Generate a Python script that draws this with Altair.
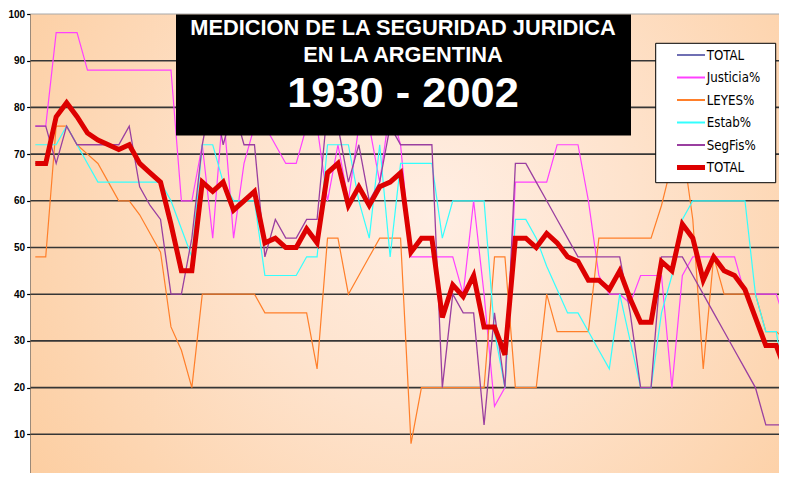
import altair as alt
import pandas as pd

years = list(range(1930, 2003))

total = [68, 68, 78, 81, 78, 74.5, 73, 72, 71, 72,
         68, 66, 64, 55, 45, 45, 64, 62, 64, 58,
         60, 62, 51, 52, 50, 50, 54, 51, 66, 68,
         59, 63, 59, 63, 64, 66, 49, 52, 52, 35,
         42, 39.5, 44, 33, 33, 27, 52, 52, 50, 53,
         51, 48, 47, 43, 43, 41, 45, 39, 34, 34,
         47, 45, 55, 52, 43, 48, 45, 44, 41, 35,
         29, 29, 23]

justicia = [76, 76, 96, 96, 96, 88, 88, 88, 88, 88,
            88, 88, 88, 88, 60, 60, 72, 52, 80, 52,
            68, 76, 76, 72, 68, 68, 76, 76, 60, 72,
            60, 76, 76, 64, 80, 72, 48, 48, 48, 48,
            48, 40, 60, 40, 16, 20, 64, 64, 64, 64,
            72, 72, 72, 60, 44, 40, 40, 38, 44, 44,
            44, 20, 44, 48, 48, 48, 48, 48, 40, 40,
            40, 40, 33]

leyes = [48, 48, 76, 76, 72, 70, 68, 64, 60, 60,
         57, 53, 49, 33, 28, 20, 40, 40, 40, 40,
         40, 40, 36, 36, 36, 36, 36, 24, 52, 52,
         40, 44, 48, 52, 52, 52, 8, 20, 20, 20,
         20, 20, 20, 20, 48, 48, 20, 20, 20, 40,
         32, 32, 32, 32, 52, 52, 52, 52, 52, 52,
         59, 68, 72, 56, 24, 48, 40, 40, 40, 40,
         32, 32, 30]

estab = [72, 72, 72, 76, 72, 68, 64, 64, 64, 64,
         64, 64, 64, 60, 54, 48, 72, 72, 64, 60,
         60, 60, 44, 44, 44, 44, 48, 48, 72, 72,
         72, 60, 52, 72, 48, 68, 68, 68, 68, 52,
         60, 60, 60, 60, 32, 20, 56, 56, 52, 46,
         41, 36, 36, 32, 28, 24, 40, 30, 20, 20,
         36, 44, 56, 60, 60, 60, 60, 60, 60, 40,
         32, 32, 17]

segfis = [76, 76, 68, 76, 72, 72, 72, 72, 72, 76,
          63, 59, 56, 40, 40, 52, 72, 84, 72, 80,
          72, 72, 48, 56, 52, 52, 56, 56, 80, 76,
          64, 72, 60, 64, 76, 72, 72, 72, 72, 20,
          40, 36, 36, 12, 36, 20, 68, 68, 64, 60,
          56, 52, 48, 48, 48, 48, 48, 36, 20, 20,
          48, 48, 48, 44, 40, 36, 32, 28, 24, 20,
          12, 12, 12]

legend_labels = ["TOTAL", "Justicia%", "LEYES%", "Estab%", "SegFis%", "TOTAL"]
series_values = [total, justicia, leyes, estab, segfis, total]
series_colors = ["#4B4BA0", "#FF40FF", "#FF7F2A", "#33FFFF", "#9A3FA0", "#DD0000"]
series_widths = [1.2, 1.2, 1.2, 1.2, 1.3, 5]

title_lines = ["MEDICION DE LA SEGURIDAD JURIDICA", "EN LA ARGENTINA", "1930 - 2002"]
grid_values = [10, 20, 30, 40, 50, 60, 70, 80, 90]
tick_values = [10, 20, 30, 40, 50, 60, 70, 80, 90, 100]

W = 748.4
H = 459

x_enc = alt.X("year:Q", scale=alt.Scale(domain=[1929.55, 2001.26], nice=False, zero=False), axis=None)
y_axis = alt.Axis(values=tick_values, grid=False, domainColor="black", domainWidth=1.5,
                  tickColor="black", tickSize=4, tickWidth=1.2, labelFont="Liberation Sans",
                  labelFontSize=10, labelFontWeight="bold", labelColor="black", labelPadding=2,
                  title=None)
y_enc = alt.Y("v:Q", scale=alt.Scale(domain=[1.71, 100], nice=False, zero=False), axis=y_axis)

one = pd.DataFrame({"a": [0]})

bg = alt.Chart(one).mark_rect(
    fill=alt.RadialGradient(
        gradient="radial",
        stops=[alt.GradientStop(offset=0, color="#FFEEE3"),
               alt.GradientStop(offset=0.35, color="#FEE3CD"),
               alt.GradientStop(offset=1, color="#FCC895")],
        x1=0.54, y1=0.46, r1=0, x2=0.54, y2=0.46, r2=0.75)
).encode(x=alt.value(0), x2=alt.value(W), y=alt.value(0), y2=alt.value(H))

grid = alt.Chart(pd.DataFrame({"v": grid_values})).mark_rule(color="#363636", strokeWidth=1.6).encode(y=y_enc)
top_line = alt.Chart(pd.DataFrame({"v": [100]})).mark_rule(color="#A8A8A8", strokeWidth=1).encode(y=y_enc)

layers = [bg, grid, top_line]
for name, vals, col, w in zip(legend_labels, series_values, series_colors, series_widths):
    d = pd.DataFrame({"year": years, "v": vals})
    layers.append(alt.Chart(d).mark_line(color=col, strokeWidth=w, clip=True).encode(x=x_enc, y=y_enc))

# title box
layers.append(alt.Chart(one).mark_rect(fill="black").encode(
    x=alt.value(145.4), x2=alt.value(600.4), y=alt.value(0.5), y2=alt.value(121.5)))
title_sizes = [21.8, 21.8, 43.4]
title_y = [21, 47.7, 93.3]
for t, s, yy in zip(title_lines, title_sizes, title_y):
    layers.append(alt.Chart(one).mark_text(text=t, font="Liberation Sans", fontWeight="bold", fontSize=s,
                                            color="white", align="center", baseline="alphabetic").encode(
        x=alt.value(372.4), y=alt.value(yy)))

# legend
layers.append(alt.Chart(one).mark_rect(fill="white", stroke="black", strokeWidth=1).encode(
    x=alt.value(625.1), x2=alt.value(745.1), y=alt.value(29.3), y2=alt.value(168.7)))
leg_w = [1.6, 2, 2, 2, 2, 5]
for i, (name, col) in enumerate(zip(legend_labels, series_colors)):
    yy = 41 + 22.5 * i
    layers.append(alt.Chart(one).mark_rule(color=col, strokeWidth=leg_w[i]).encode(
        x=alt.value(646.4), x2=alt.value(674.4), y=alt.value(yy)))
    layers.append(alt.Chart(one).mark_text(text=name, font="DejaVu Sans Condensed, Liberation Sans, sans-serif",
                                            fontSize=13.2, color="black", align="left", baseline="middle").encode(
        x=alt.value(676.1), y=alt.value(yy + 0.5)))

chart = alt.layer(*layers).properties(
    width=W, height=H,
    autosize=alt.AutoSizeParams(type="none"),
    padding={"left": 22.6, "top": 6, "right": 0, "bottom": 0},
).configure_view(stroke=None)

chart.save("out.html", embed_options={"renderer": "svg", "actions": False})
